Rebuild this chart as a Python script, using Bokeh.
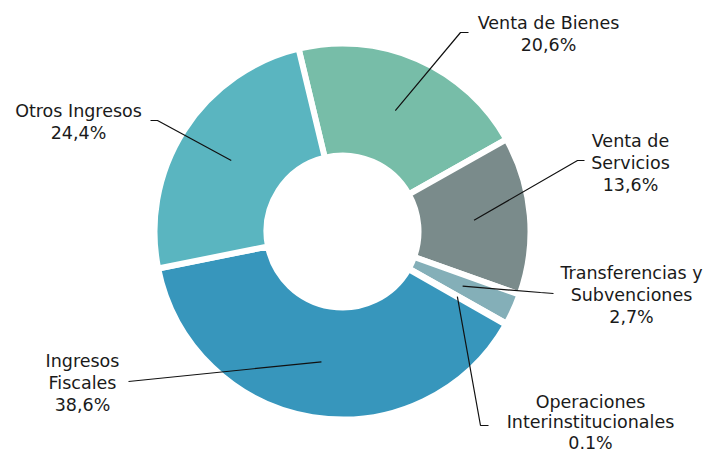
import math
from bokeh.plotting import figure
from bokeh.models import Range1d
from bokeh.core.properties import value
from bokeh.embed import file_html
from bokeh.resources import INLINE

# ---- data ----
categories = ["Venta de Bienes", "Venta de Servicios", "Transferencias y Subvenciones",
              "Operaciones Interinstitucionales", "Ingresos Fiscales", "Otros Ingresos"]
shares = [20.6, 13.6, 2.7, 0.1, 38.6, 24.4]
share_labels = ["20,6%", "13,6%", "2,7%", "0.1%", "38,6%", "24,4%"]
label_lines = [["Venta de Bienes"], ["Venta de", "Servicios"], ["Transferencias y", "Subvenciones"],
               ["Operaciones", "Interinstitucionales"], ["Ingresos", "Fiscales"], ["Otros Ingresos"]]
colors = ["#77BDA8", "#7A8B8B", "#84AFB8", "#9FC3CC", "#3796BC", "#5AB5C0"]

# ---- layout (pixel-based) ----
W, H = 706, 454
OFF = 0
cx, cy = 342, H - 231
r_in, r_out = 76, 188
start_deg = 103.5  # first slice starts slightly left of the top, clockwise

def px(x, y):  # page coords -> data coords
    return x - OFF, H - (y - OFF)

label_pos = [(548, 22), (630, 140), (631, 272), (590, 401), (82, 360), (78, 110)]
line_gap = [22, 22, 22, 20.5, 22, 22]
elbows = [[(460, 32), (468, 32)], [(577, 160), (584, 160)], [(540, 292), (553, 293)],
          [(480, 425), (488, 425)], [(128, 381)], [(157, 120), (150, 120)]]

p = figure(width=W, height=H, x_range=Range1d(0, W), y_range=Range1d(0, H),
           output_backend="svg", toolbar_location=None, min_border=0)
p.axis.visible = False
p.grid.visible = False
p.outline_line_color = None
p.background_fill_color = "white"

total = sum(shares)
angle = start_deg
starts, ends, mids = [], [], []
for s in shares:
    span = 360 * s / total
    starts.append(math.radians(angle))
    ends.append(math.radians(angle - span))
    mids.append(math.radians(angle - span / 2))
    angle -= span

p.annular_wedge(x=cx, y=cy, inner_radius=r_in, outer_radius=r_out,
                start_angle=starts, end_angle=ends, direction="clock",
                fill_color=colors, line_color="white", line_width=6)

r_anchor = (r_in + r_out) / 2
for i in range(len(categories)):
    ax = cx + r_anchor * math.cos(mids[i])
    ay = cy + r_anchor * math.sin(mids[i])
    xs = [ax] + [px(*e)[0] for e in elbows[i]]
    ys = [ay] + [px(*e)[1] for e in elbows[i]]
    p.line(xs, ys, line_color="#111111", line_width=1.2)
    lines = label_lines[i] + [share_labels[i]]
    lx, ly = px(*label_pos[i])
    p.text(x=[lx] * len(lines), y=[ly - k * line_gap[i] for k in range(len(lines))], text=lines,
           text_align="center", text_baseline="middle", text_font=value("DejaVu Sans"),
           text_font_size="17.5px", text_color="#1a1a1a")

open("out.html", "w").write(file_html(p, INLINE))
